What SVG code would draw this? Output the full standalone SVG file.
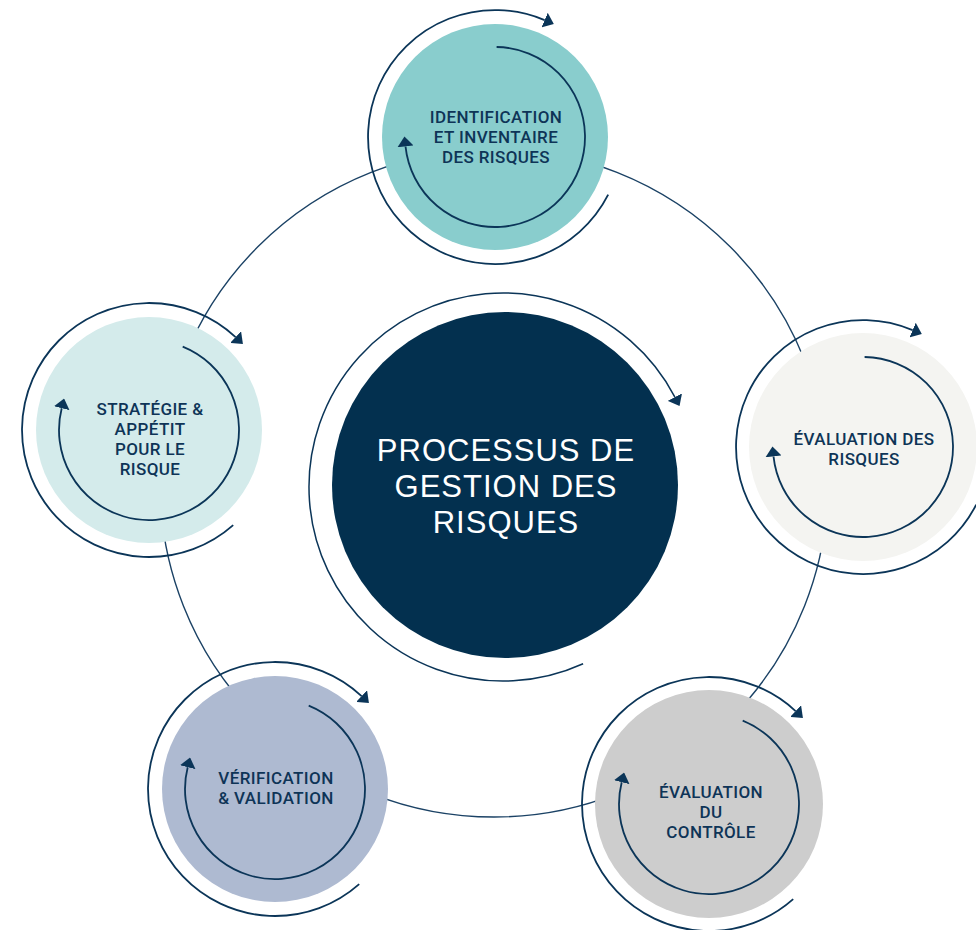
<svg xmlns="http://www.w3.org/2000/svg" width="976" height="930" viewBox="0 0 976 930">
  <style>
    .ring { fill: none; stroke: #1B4265; stroke-width: 1.4; }
    .arc { fill: none; stroke: #0B3558; stroke-width: 1.8; marker-end: url(#ah); }
    .carc { fill: none; stroke: #0B3558; stroke-width: 1.5; marker-end: url(#ah); }
    .lbl { font-family: Roboto, "Liberation Sans", Arial, sans-serif; font-weight: 500; font-size: 17px; letter-spacing: 0.4px; fill: #0E3457; text-anchor: middle; }
    .ctr { font-family: "Liberation Sans", Arial, sans-serif; font-weight: 400; font-size: 31px; letter-spacing: 1px; fill: #FFFFFF; text-anchor: middle; }
  </style>
  <defs>
    <marker id="ah" viewBox="0 -8 10 16" refX="0" refY="0" markerWidth="10" markerHeight="16" markerUnits="userSpaceOnUse" orient="auto">
      <path d="M0,-8 L10,0 L0,8 z" fill="#0B3558"/>
    </marker>
  </defs>
  <rect width="976" height="930" fill="#FFFFFF"/>

  <g id="connectors">
    <circle class="ring" cx="494" cy="483" r="334"/>
  </g>

  <g id="center">
    <circle cx="505" cy="485" r="173" fill="#03304F"/>
    <path class="carc" d="M583.1,663.7 A194,194 0 1 1 674.9,397.1"/>
    <text class="ctr" x="506" y="461">PROCESSUS DE</text>
    <text class="ctr" x="506" y="497">GESTION DES</text>
    <text class="ctr" x="506" y="533">RISQUES</text>
  </g>

  <g id="identification">
    <g transform="translate(495,137)">
      <circle r="113" fill="#89CDCD"/>
      <path class="arc" d="M113.2,57.7 A127,127 0 1 1 49.6,-116.9"/>
      <path class="arc" d="M1.6,-90 A90,90 0 1 1 -89.5,9.4"/>
    </g>
    <text class="lbl" x="496" y="123">IDENTIFICATION</text>
    <text class="lbl" x="496" y="143">ET INVENTAIRE</text>
    <text class="lbl" x="496" y="163">DES RISQUES</text>
  </g>

  <g id="evaluation-risques">
    <g transform="translate(863,447)">
      <circle r="114" fill="#F4F4F1"/>
      <path class="arc" d="M113.2,57.7 A127,127 0 1 1 49.6,-116.9"/>
      <path class="arc" d="M1.6,-90 A90,90 0 1 1 -89.5,9.4"/>
    </g>
    <text class="lbl" x="864" y="445">ÉVALUATION DES</text>
    <text class="lbl" x="864" y="465">RISQUES</text>
  </g>

  <g id="evaluation-controle">
    <g transform="translate(709,804)">
      <circle r="114" fill="#CDCDCD"/>
      <path class="arc" d="M84.2,95.1 A127,127 0 1 1 86.6,-92.9"/>
      <path class="arc" d="M33.7,-83.4 A90,90 0 1 1 -87.3,-21.8"/>
    </g>
    <text class="lbl" x="711" y="798">ÉVALUATION</text>
    <text class="lbl" x="711" y="818">DU</text>
    <text class="lbl" x="711" y="838">CONTRÔLE</text>
  </g>

  <g id="verification">
    <g transform="translate(275,789)">
      <circle r="113" fill="#AEBAD1"/>
      <path class="arc" d="M84.2,95.1 A127,127 0 1 1 86.6,-92.9"/>
      <path class="arc" d="M33.7,-83.4 A90,90 0 1 1 -87.3,-21.8"/>
    </g>
    <text class="lbl" x="276" y="784">VÉRIFICATION</text>
    <text class="lbl" x="276" y="804">&amp; VALIDATION</text>
  </g>

  <g id="strategie">
    <g transform="translate(149,430)">
      <circle r="113" fill="#D4EBEB"/>
      <path class="arc" d="M84.2,95.1 A127,127 0 1 1 86.6,-92.9"/>
      <path class="arc" d="M33.7,-83.4 A90,90 0 1 1 -87.3,-21.8"/>
    </g>
    <text class="lbl" x="150" y="415">STRATÉGIE &amp;</text>
    <text class="lbl" x="150" y="435">APPÉTIT</text>
    <text class="lbl" x="150" y="455">POUR LE</text>
    <text class="lbl" x="150" y="475">RISQUE</text>
  </g>
</svg>
